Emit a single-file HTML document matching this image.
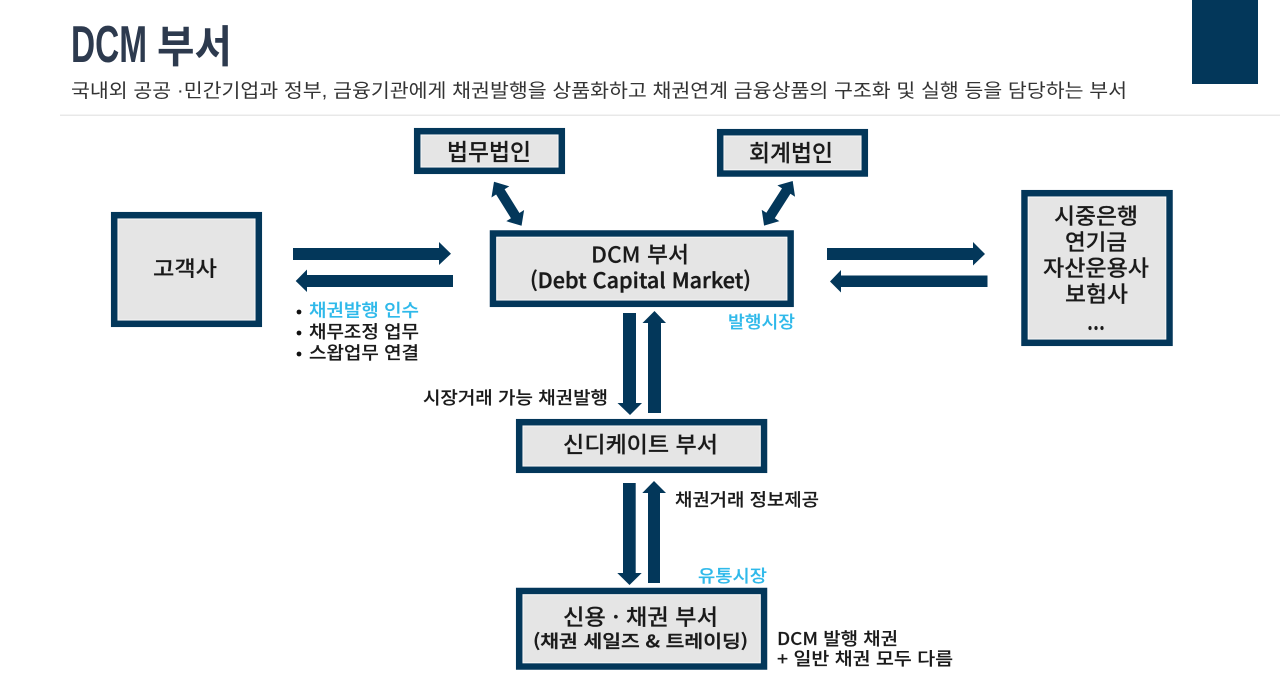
<!DOCTYPE html>
<html lang="ko"><head><meta charset="utf-8"><title>DCM 부서</title>
<style>
html,body{margin:0;padding:0;background:#fff;width:1280px;height:674px;overflow:hidden}
svg{display:block}
text{font-family:"Liberation Sans","Noto Sans CJK KR",sans-serif;fill:#1a1a1a;white-space:pre}
.b{fill:#e5e5e5;stroke:#03375a;stroke-width:6.5}
.i{fill:none;stroke:#f6f6f6;stroke-width:1}
.a{fill:#03375a}
.k{font-family:"Noto Sans CJK KR","Liberation Sans",sans-serif;stroke:#1a1a1a;stroke-width:.15}
.m{stroke-width:.4}
.c{stroke:#2fb9ea}
</style></head><body>
<svg width="1280" height="674" viewBox="0 0 1280 674" xmlns="http://www.w3.org/2000/svg">
<rect x="1192" y="0" width="66" height="84" fill="#03375a"/>
<rect x="60" y="114.5" width="1220" height="1.5" fill="#e8e8e8"/>
<text x="71" y="62" font-size="52" font-weight="700" style="fill:#2d3a4e" textLength="76" lengthAdjust="spacingAndGlyphs">DCM</text>
<text x="157" y="62" font-size="44" font-weight="700" style="fill:#2d3a4e" textLength="75" lengthAdjust="spacingAndGlyphs">부서</text>
<text x="71" y="97" font-size="19" textLength="1056" lengthAdjust="spacingAndGlyphs" style="fill:#333">국내외 공공 ·민간기업과 정부, 금융기관에게 채권발행을 상품화하고 채권연계 금융상품의 구조화 및 실행 등을 담당하는 부서</text>

<rect class="b" x="417.2" y="131.2" width="144.6" height="39.6"/>
<rect class="b" x="720.2" y="132.2" width="144.6" height="41.3"/>
<rect class="b" x="114.2" y="215.2" width="144.6" height="108.6"/>
<rect class="b" x="493" y="233.5" width="297.6" height="70.3"/>
<rect class="b" x="1024.5" y="193.2" width="145" height="149.6"/>
<rect class="b" x="519.2" y="422.2" width="244.8" height="47.6"/>
<rect class="b" x="519.2" y="591" width="244.8" height="75.5"/>
<rect class="i" x="421" y="135" width="137" height="32"/>
<rect class="i" x="724" y="136" width="137" height="33.7"/>
<rect class="i" x="118" y="219" width="137" height="101"/>
<rect class="i" x="496.8" y="237.3" width="290" height="62.7"/>
<rect class="i" x="1028.3" y="197" width="137.4" height="142"/>
<rect class="i" x="523" y="426" width="237.2" height="40"/>
<rect class="i" x="523" y="594.8" width="237.2" height="67.9"/>

<polygon class="a" transform="translate(494 181.7) rotate(58)" points="0,0 12,-10.5 12,-5 40,-5 40,-10.5 52,0 40,10.5 40,5 12,5 12,10.5"/>
<polygon class="a" transform="translate(792.7 181) rotate(122.7)" points="0,0 12,-10.5 12,-5 41,-5 41,-10.5 53,0 41,10.5 41,5 12,5 12,10.5"/>

<polygon class="a" points="293,248 439,248 439,242 451,253.7 439,265 439,260 293,260"/>
<polygon class="a" points="453,275 307,275 307,269.5 295.7,281 307,292 307,287 453,287"/>
<polygon class="a" points="827,248 973,248 973,242 985,254 973,265.5 973,260 827,260"/>
<polygon class="a" points="987.5,275.5 841,275.5 841,270 830,281.5 841,292.5 841,287 987.5,287"/>

<polygon class="a" points="623,313 636,313 636,403 642,403 630,415 617.5,403 623,403"/>
<polygon class="a" points="648,413 661,413 661,323 666,323 654.5,311 642.5,323 648,323"/>
<polygon class="a" points="623,483 635.7,483 635.7,573 641.7,573 629.5,585 617.3,573 623,573"/>
<polygon class="a" points="648,583 660,583 660,493 666,493 654,481 642.3,493 648,493"/>

<g font-weight="500">
<text class="k" x="447" y="160" font-size="23" textLength="84" lengthAdjust="spacingAndGlyphs">법무법인</text>
<text class="k" x="749" y="161" font-size="23" textLength="84" lengthAdjust="spacingAndGlyphs">회계법인</text>
<text class="k" x="153" y="276" font-size="21" textLength="64" lengthAdjust="spacingAndGlyphs">고객사</text>
<text class="k" x="591" y="262.5" font-size="22" textLength="98" lengthAdjust="spacingAndGlyphs">DCM 부서</text>
<text class="k m" x="530" y="288" font-size="21" textLength="221" lengthAdjust="spacingAndGlyphs">(Debt Capital Market)</text>
<text class="k c" style="fill:#2fb9ea" x="728" y="328" font-size="17" textLength="67" lengthAdjust="spacingAndGlyphs">발행시장</text>
<circle cx="299" cy="312" r="2.4" fill="#111"/>
<circle cx="299" cy="333" r="2.4" fill="#111"/>
<circle cx="299" cy="354" r="2.4" fill="#111"/>
<text class="k c" style="fill:#2fb9ea" x="309" y="316.5" font-size="17.5" textLength="110" lengthAdjust="spacingAndGlyphs">채권발행 인수</text>
<text class="k" x="309" y="338" font-size="17.5" textLength="110" lengthAdjust="spacingAndGlyphs">채무조정 업무</text>
<text class="k" x="309" y="359" font-size="17.5" textLength="110" lengthAdjust="spacingAndGlyphs">스왑업무 연결</text>
<text class="k" x="423" y="404" font-size="17.5" textLength="185" lengthAdjust="spacingAndGlyphs">시장거래 가능 채권발행</text>
<text class="k" x="1054" y="224" font-size="22" textLength="84" lengthAdjust="spacingAndGlyphs">시중은행</text>
<text class="k" x="1065" y="250" font-size="22" textLength="62" lengthAdjust="spacingAndGlyphs">연기금</text>
<text class="k" x="1043" y="276" font-size="22" textLength="106" lengthAdjust="spacingAndGlyphs">자산운용사</text>
<text class="k" x="1065" y="302" font-size="22" textLength="63" lengthAdjust="spacingAndGlyphs">보험사</text>
<text class="k" x="1087" y="330" font-size="24" textLength="18" lengthAdjust="spacingAndGlyphs">...</text>
<text class="k" x="563" y="452.5" font-size="22" textLength="155" lengthAdjust="spacingAndGlyphs">신디케이트 부서</text>
<text class="k" x="675" y="506" font-size="17.5" textLength="144" lengthAdjust="spacingAndGlyphs">채권거래 정보제공</text>
<text class="k c" style="fill:#2fb9ea" x="698" y="582" font-size="17" textLength="69" lengthAdjust="spacingAndGlyphs">유통시장</text>
<text class="k" x="563" y="625" font-size="22" textLength="155" lengthAdjust="spacingAndGlyphs">신용 · 채권 부서</text>
<text class="k m" x="533" y="647.5" font-size="17.5" textLength="215" lengthAdjust="spacingAndGlyphs">(채권 세일즈 &amp; 트레이딩)</text>
<text class="k" x="777" y="645" font-size="17.5" textLength="121" lengthAdjust="spacingAndGlyphs">DCM 발행 채권</text>
<text class="k" x="777" y="665" font-size="17.5" textLength="176" lengthAdjust="spacingAndGlyphs">+ 일반 채권 모두 다름</text>
</g>
</svg>
</body></html>
